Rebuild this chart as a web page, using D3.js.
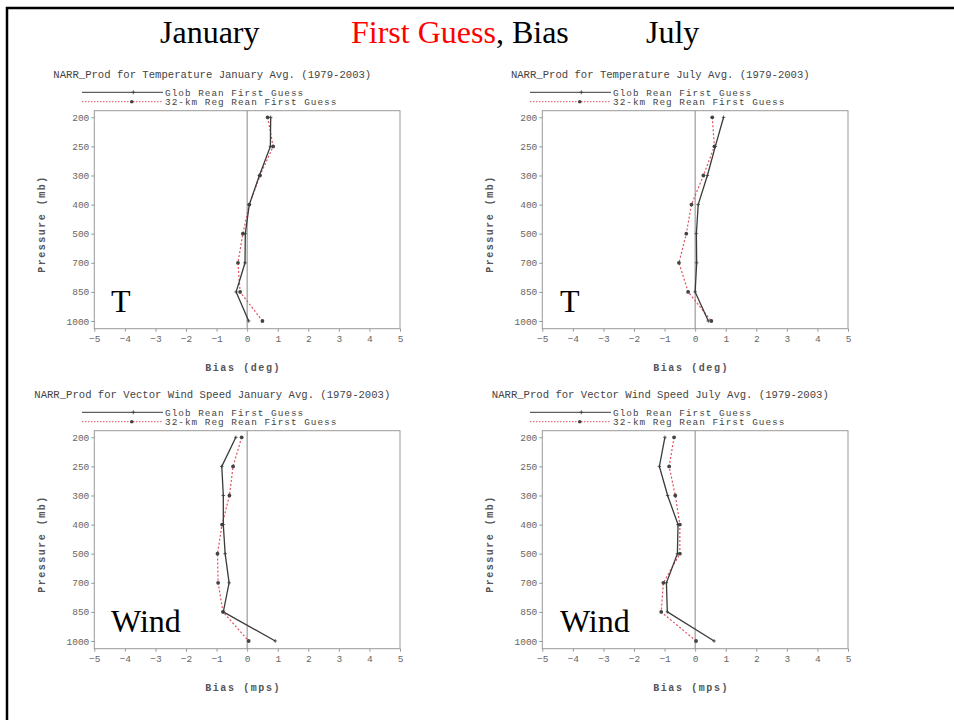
<!DOCTYPE html>
<html><head><meta charset="utf-8">
<script src="https://cdn.jsdelivr.net/npm/d3@7/dist/d3.min.js"></script>
<style>
html,body{margin:0;padding:0;background:#fff;}
svg{display:block;}
</style></head>
<body>
<svg id="c" width="954" height="720"></svg>
<script>
// ---- data ----
const levels = [200, 250, 300, 400, 500, 700, 850, 1000];
const xTicks = [-5, -4, -3, -2, -1, 0, 1, 2, 3, 4, 5];
const seriesNames = ["Glob Rean First Guess", "32-km Reg Rean First Guess"];
const panelTitles = [
  "NARR_Prod for Temperature January Avg. (1979-2003)",
  "NARR_Prod for Temperature July Avg. (1979-2003)",
  "NARR_Prod for Vector Wind Speed January Avg. (1979-2003)",
  "NARR_Prod for Vector Wind Speed July Avg. (1979-2003)"
];
const xTitles = ["Bias (deg)", "Bias (deg)", "Bias (mps)", "Bias (mps)"];
const bigLabels = ["T", "T", "Wind", "Wind"];
const janTGlob = [0.77, 0.76, 0.40, 0.07, -0.06, -0.07, -0.36, 0.05];
const janTReg  = [0.67, 0.85, 0.42, 0.07, -0.14, -0.30, -0.23, 0.50];
const julTGlob = [0.93, 0.66, 0.40, 0.10, 0.04, 0.05, 0.00, 0.43];
const julTReg  = [0.56, 0.63, 0.27, -0.12, -0.29, -0.53, -0.23, 0.53];
const janWGlob = [-0.37, -0.83, -0.78, -0.78, -0.72, -0.59, -0.78, 0.92];
const janWReg  = [-0.18, -0.46, -0.58, -0.82, -0.97, -0.95, -0.79, 0.05];
const julWGlob = [-0.99, -1.17, -0.90, -0.56, -0.58, -0.94, -0.91, 0.62];
const julWReg  = [-0.69, -0.85, -0.65, -0.50, -0.50, -1.04, -1.11, 0.03];
const headerParts = [
  {text: "January", color: "#000"},
  {text: "First Guess", color: "#ff0000"},
  {text: ", Bias", color: "#000"},
  {text: "July", color: "#000"}
];

const panels = [
  {glob: janTGlob, reg: janTReg, ox: 0, oy: 0},
  {glob: julTGlob, reg: julTReg, ox: 448, oy: 0},
  {glob: janWGlob, reg: janWReg, ox: 0, oy: 320},
  {glob: julWGlob, reg: julWReg, ox: 448, oy: 320}
];

const svg = d3.select("#c");

// outer frame
svg.append("rect").attr("x", 7).attr("y", 8).attr("width", 1200).attr("height", 1200)
  .attr("fill", "none").attr("stroke", "#000").attr("stroke-width", 2.5);

// header
const hdr = svg.append("text").attr("y", 43)
  .attr("font-family", "'Liberation Serif', 'Times New Roman', serif").attr("font-size", 32);
hdr.append("tspan").attr("x", 160).attr("fill", headerParts[0].color).text(headerParts[0].text);
hdr.append("tspan").attr("x", 351).attr("fill", headerParts[1].color).text(headerParts[1].text);
hdr.append("tspan").attr("fill", headerParts[2].color).text(headerParts[2].text);
hdr.append("tspan").attr("x", 646).attr("fill", headerParts[3].color).text(headerParts[3].text);

const mono = "'Liberation Mono', 'DejaVu Sans Mono', monospace";
const gray = "#666";
const lineBlack = "#3a3a3a";
const lineRed = "#e0505e";

panels.forEach((p, i) => {
  const left = 94.3 + p.ox, right = 400 + p.ox;
  const frameTop = 110.7 + p.oy, frameBot = 328.7 + p.oy;
  const x = d3.scaleLinear().domain([-5, 5]).range([left, right]);
  const y = d3.scalePoint().domain(levels).range([117.3 + p.oy, 321 + p.oy]).padding(0);
  const g = svg.append("g");

  // title
  g.append("text").attr("x", left + 118).attr("y", 78 + p.oy).attr("text-anchor", "middle")
    .attr("font-family", mono).attr("font-size", 10.6).attr("fill", "#444").text(panelTitles[i]);

  // legend
  const lx1 = left - 12.3, lx2 = left + 68.7;
  const ly1 = 92.3 + p.oy, ly2 = 101.7 + p.oy;
  g.append("line").attr("x1", lx1).attr("x2", lx2).attr("y1", ly1).attr("y2", ly1)
    .attr("stroke", lineBlack).attr("stroke-width", 1);
  g.append("path").attr("d", `M${left+39-2},${ly1}h4M${left+39},${ly1-2}v4`).attr("stroke", lineBlack).attr("stroke-width", 0.8);
  g.append("line").attr("x1", lx1).attr("x2", lx2).attr("y1", ly2).attr("y2", ly2)
    .attr("stroke", lineRed).attr("stroke-width", 1).attr("stroke-dasharray", "1.5,1.5");
  g.append("circle").attr("cx", left + 37.5).attr("cy", ly2).attr("r", 1.8).attr("fill", "#444");
  g.append("text").attr("x", lx2 + 2).attr("y", ly1 + 3.2).attr("font-family", mono).attr("font-size", 9.4)
    .attr("letter-spacing", 1.0).attr("fill", "#444").text(seriesNames[0]);
  g.append("text").attr("x", lx2 + 2).attr("y", ly2 + 3.2).attr("font-family", mono).attr("font-size", 9.4)
    .attr("letter-spacing", 1.0).attr("fill", "#444").text(seriesNames[1]);

  // frame
  g.append("rect").attr("x", left).attr("y", frameTop).attr("width", right - left).attr("height", frameBot - frameTop)
    .attr("fill", "none").attr("stroke", "#999").attr("stroke-width", 1);
  // zero line
  g.append("line").attr("x1", x(0)).attr("x2", x(0)).attr("y1", frameTop).attr("y2", frameBot)
    .attr("stroke", "#888").attr("stroke-width", 1);

  // axes
  const ya = d3.axisLeft(y).tickSize(3).tickPadding(2);
  const yg = g.append("g").attr("transform", `translate(${left},0)`).call(ya);
  yg.select(".domain").remove();
  yg.selectAll("line").attr("stroke", "#999");
  yg.selectAll("text").attr("font-family", mono).attr("font-size", 9.5).attr("fill", gray);

  const xa = d3.axisBottom(x).tickValues(xTicks).tickSize(3).tickPadding(4).tickFormat(d3.format("d"));
  const xg = g.append("g").attr("transform", `translate(0,${frameBot})`).call(xa);
  xg.select(".domain").remove();
  xg.selectAll("line").attr("stroke", "#999");
  xg.selectAll("text").attr("font-family", mono).attr("font-size", 9.5).attr("fill", gray)
    .text(d => d < 0 ? "\u2212" + Math.abs(d) : d);

  // axis titles
  g.append("text").attr("x", (left + right) / 2 - 4).attr("y", 371 + p.oy).attr("text-anchor", "middle")
    .attr("font-family", mono).attr("font-size", 10).attr("font-weight", "bold").attr("letter-spacing", 1.6)
    .attr("fill", "#555").text(xTitles[i]);
  g.append("text").attr("transform", `translate(${45 + p.ox},${224 + p.oy}) rotate(-90)`).attr("text-anchor", "middle")
    .attr("font-family", mono).attr("font-size", 10).attr("font-weight", "bold").attr("letter-spacing", 1.5)
    .attr("fill", "#555").text("Pressure (mb)");

  // data lines
  const line = d3.line().x(d => x(d.v)).y(d => y(d.l));
  const regData = levels.map((l, k) => ({l, v: p.reg[k]}));
  const globData = levels.map((l, k) => ({l, v: p.glob[k]}));
  g.append("path").datum(regData).attr("d", line).attr("fill", "none")
    .attr("stroke", lineRed).attr("stroke-width", 1.2).attr("stroke-dasharray", "2,2");
  g.append("path").datum(globData).attr("d", line).attr("fill", "none")
    .attr("stroke", lineBlack).attr("stroke-width", 1.3);
  g.selectAll(".mr").data(regData).enter().append("circle")
    .attr("cx", d => x(d.v)).attr("cy", d => y(d.l)).attr("r", 1.9).attr("fill", "#444");
  g.selectAll(".mg").data(globData).enter().append("path")
    .attr("d", d => `M${x(d.v)-1.8},${y(d.l)}h3.6M${x(d.v)},${y(d.l)-1.8}v3.6`)
    .attr("stroke", lineBlack).attr("stroke-width", 0.8);

  // big label
  g.append("text").attr("x", 111 + p.ox * 1.002).attr("y", 312 + p.oy)
    .attr("font-family", "'Liberation Serif', 'Times New Roman', serif").attr("font-size", 32)
    .attr("fill", "#000").text(bigLabels[i]);
});
</script>
</body></html>
